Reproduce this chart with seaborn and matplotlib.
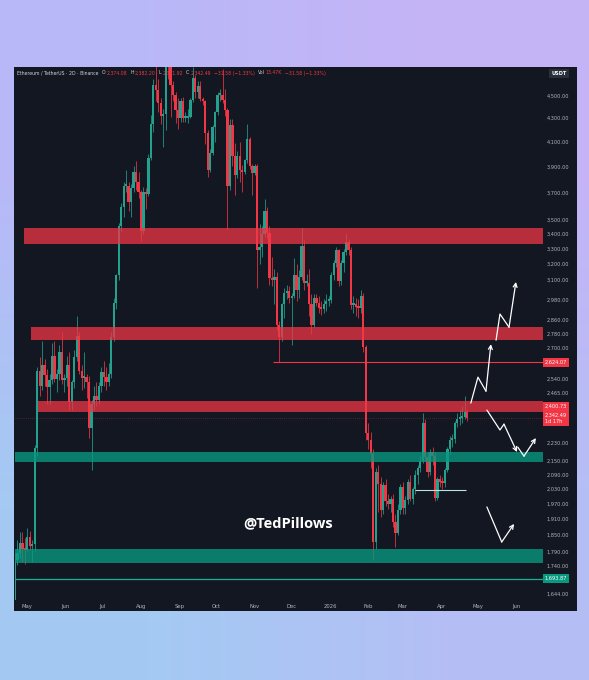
import numpy as np
import pandas as pd
import matplotlib
matplotlib.use("Agg")
import matplotlib.pyplot as plt
import matplotlib.dates as mdates
import matplotlib.transforms as mtrans
from matplotlib.ticker import NullLocator, NullFormatter
from matplotlib.patches import Rectangle
import seaborn as sns

sns.set_theme(style="dark")
plt.rcParams["font.family"] = ["DejaVu Sans"]

# ---------------- data (ETH/USDT, 2D candles) ----------------
first_candle = "2025-04-21"
opens = [1580,1757,1785,1820,1798,1795,1842,1808,1815,2206,
         2580,2500,2610,2555,2495,2530,2660,2535,2565,2680,
         2530,2540,2610,2420,2520,2650,2765,2580,2540,2545,
         2520,2297,2410,2450,2430,2500,2575,2545,2520,2560,
         2760,2960,3130,3460,3595,3745,3750,3630,3730,3860,
         3780,3700,3420,3700,3690,3970,4250,4600,4550,4430,
         4320,4340,4830,4780,4600,4510,4370,4300,4450,4300,
         4300,4310,4460,4660,4530,4590,4470,4450,4170,3870,
         4010,4220,4350,4510,4510,4460,4370,3750,4240,3980,
         3830,3980,3870,3860,3950,4120,3900,3850,3900,3290,
         3310,3400,3560,3410,3110,3100,3120,2830,2760,2950,
         3020,3030,2990,3000,3130,3040,3120,3320,3080,3080,
         2950,2830,2990,2960,2930,2920,2950,2970,2975,3130,
         3210,3290,3090,3210,3280,3350,3290,2945,2950,2935,
         2930,3000,2705,2275,2240,2180,1825,2100,2050,1945,
         2045,1980,1970,1990,1900,1858,1946,2040,1955,1985,
         2060,1990,2030,2090,2120,2150,2320,2165,2100,2190,
         2170,1995,2070,2060,2055,2110,2200,2240,2245,2320,
         2340,2345,2350,2374]
highs = [1785,1830,1860,1860,1840,1875,1865,1830,2220,2600,
         2650,2740,2640,2590,2560,2730,2740,2590,2720,2790,
         2560,2660,2680,2530,2690,2880,2790,2610,2680,2560,
         2550,2430,2500,2520,2520,2600,2630,2600,2620,2790,
         2990,3140,3480,3620,3780,3870,3780,3760,3900,3945,
         3860,3720,3740,3730,4000,4330,4650,4790,4650,4480,
         4380,4890,4956,4790,4640,4530,4480,4480,4490,4350,
         4380,4480,4770,4690,4640,4640,4490,4460,4200,4040,
         4240,4360,4530,4560,4750,4560,4390,4290,4290,4090,
         4020,4100,3910,3960,4250,4140,3920,3920,3920,3470,
         3460,3650,3590,3460,3250,3170,3150,2850,2960,3050,
         3070,3060,3020,3240,3200,3160,3440,3360,3140,3170,
         3010,3010,3010,3000,2970,2980,3010,3000,3150,3230,
         3310,3300,3230,3300,3400,3370,3310,3000,2990,2980,
         3040,3020,2720,2320,2280,2200,2120,2130,2080,2060,
         2070,2010,2000,2010,1930,1970,2050,2060,2000,2070,
         2090,2040,2110,2130,2170,2370,2340,2190,2200,2210,
         2190,2080,2090,2080,2120,2210,2260,2270,2330,2370,
         2380,2400,2450,2382]
lows = [1565,1740,1765,1750,1745,1790,1795,1750,1790,2170,
        2450,2480,2500,2410,2410,2510,2520,2470,2530,2510,
        2470,2500,2380,2380,2490,2630,2560,2480,2490,2440,
        2250,2110,2380,2400,2410,2470,2500,2480,2500,2540,
        2740,2920,3100,3420,3520,3700,3560,3520,3700,3720,
        3660,3355,3400,3580,3670,3950,4180,4450,4350,4250,
        4060,4200,4650,4310,4450,4260,4210,4270,4270,4270,
        4260,4300,4440,4480,4480,4450,4420,4080,3820,3860,
        3990,4100,4330,4450,4430,4320,3435,3720,3900,3680,
        3810,3780,3700,3840,3930,3880,3680,3830,3050,3200,
        3250,3380,3370,3070,3060,2950,2800,2624,2740,2870,
        2980,2960,2720,2990,2970,2990,3100,3040,3060,2880,
        2780,2820,2940,2900,2890,2900,2910,2940,2960,3100,
        3180,3060,3070,3150,3260,3260,2920,2900,2880,2870,
        2900,2680,2240,2200,2120,1760,1800,1940,1920,1930,
        1960,1950,1940,1880,1805,1850,1930,1930,1930,1970,
        1980,1970,2010,2050,2100,2140,2150,2080,2090,2130,
        1980,1985,2040,2030,2040,2100,2180,2210,2230,2300,
        2310,2320,2340,2332]
closes = [1757,1785,1820,1798,1795,1842,1808,1815,2206,2580,
          2500,2610,2555,2495,2530,2660,2535,2565,2680,2530,
          2540,2610,2420,2520,2650,2765,2580,2540,2545,2520,
          2297,2410,2450,2430,2500,2575,2545,2520,2560,2760,
          2960,3130,3460,3595,3745,3750,3630,3730,3860,3780,
          3700,3420,3700,3690,3970,4250,4600,4550,4430,4320,
          4340,4830,4780,4600,4510,4370,4300,4450,4300,4300,
          4310,4460,4660,4530,4590,4470,4450,4170,3870,4010,
          4220,4350,4510,4510,4460,4370,3750,4240,3980,3830,
          3980,3870,3860,3950,4120,3900,3850,3900,3290,3310,
          3400,3560,3410,3110,3100,3120,2830,2760,2950,3020,
          3030,2990,3000,3130,3040,3120,3320,3080,3080,2950,
          2830,2990,2960,2930,2920,2950,2970,2975,3130,3210,
          3290,3090,3210,3280,3350,3290,2945,2950,2935,2930,
          3000,2705,2275,2240,2180,1825,2100,2050,1945,2045,
          1980,1970,1990,1900,1858,1946,2040,1955,1985,2060,
          1990,2030,2090,2120,2150,2320,2165,2100,2190,2170,
          1995,2070,2060,2055,2110,2200,2240,2245,2320,2340,
          2345,2350,2374,2342]

# zones: (start date, low, high)
red_zones = [("2025-04-28", 3335, 3445), ("2025-05-04", 2745, 2820), ("2025-05-10", 2372, 2428)]
green_zones = [(2143, 2190), (1748, 1798)]
level_red = 2624.07
level_red_start = "2025-11-16"
level_green = 1693.87
level_zone = 2400.73
last_price = 2342.49
range_line = ("2026-03-11", "2026-04-21", 2028)

# y axis labels
ytick_vals = [4500, 4300, 4100, 3900, 3700, 3500, 3400, 3300, 3200, 3100, 2980, 2860,
              2780, 2700, 2540, 2465, 2230, 2150, 2090, 2030, 1970, 1910, 1850, 1790, 1740, 1644]
month_ticks = ["2025-05-01", "2025-06-01", "2025-07-01", "2025-08-01", "2025-09-01", "2025-10-01",
               "2025-11-01", "2025-12-01", "2026-01-01", "2026-02-01", "2026-03-01", "2026-04-01",
               "2026-05-01", "2026-06-01"]
month_labels = ["May", "Jun", "Jul", "Aug", "Sep", "Oct", "Nov", "Dec", "2026", "Feb", "Mar", "Apr", "May", "Jun"]

# header legend pieces
header_parts = [("Ethereum / TetherUS · 2D · Binance", "w"), ("O", "w"), ("2,374.08", "r"),
                ("H", "w"), ("2,382.20", "r"), ("L", "w"), ("2,331.92", "r"), ("C", "w"),
                ("2,342.49", "r"), ("−31.58 (−1.33%)", "r"), ("Vol", "w"), ("13.47K", "r"),
                ("−31.58 (−1.33%)", "r")]

# projected paths (date, price)
path_up1 = (["2026-04-25 00:00", "2026-04-30 18:00", "2026-05-07 06:00", "2026-05-11 06:00"], [2416, 2546, 2475, 2722])
path_up2 = (["2026-05-15 10:00", "2026-05-18 14:00", "2026-05-25 22:00", "2026-05-31 12:00"], [2744, 2893, 2817, 3087])
path_dn1 = (["2026-05-08 00:00", "2026-05-18 14:00", "2026-05-21 20:00", "2026-06-01 10:00"], [2382, 2288, 2315, 2188])
path_dn2 = (["2026-06-02 00:00", "2026-06-07 00:00", "2026-06-16 16:00"], [2210, 2170, 2251])
path_low = (["2026-05-08 00:00", "2026-05-20 00:00", "2026-05-30 00:00"], [1958, 1824, 1892])

# ---------------- layout ----------------
W, H = 589, 680
def fx(p): return p / W
def fy(p): return 1 - p / H

UP, DOWN = "#22a18f", "#f23645"
PANEL = "#131722"

fig = plt.figure(figsize=(W / 100, H / 100), dpi=100)

bg = fig.add_axes([0, 0, 1, 1], zorder=0)
grad = np.array([[[0.725, 0.722, 0.973], [0.772, 0.706, 0.965]],
                 [[0.643, 0.792, 0.953], [0.706, 0.749, 0.961]]])
bg.imshow(grad, extent=[0, 1, 0, 1], interpolation="bilinear", aspect="auto")
bg.add_patch(Rectangle((fx(14), fy(611)), fx(577) - fx(14), fy(67) - fy(611),
                       transform=bg.transAxes, color=PANEL, lw=0))
bg.set_xlim(0, 1); bg.set_ylim(0, 1)
bg.axis("off")

ax = fig.add_axes([fx(14.7), fy(600), fx(543) - fx(14.7), fy(67) - fy(600)], zorder=1)
ax.set_facecolor(PANEL)
for s in ax.spines.values():
    s.set_visible(False)
ax.grid(False)
ax.set_yscale("log")
ax.set_ylim(1622, 4769)
xl = mdates.date2num(pd.Timestamp("2025-04-20 19:00"))
xr = mdates.date2num(pd.Timestamp("2026-06-22 10:00"))
ax.set_xlim(xl, xr)

o = np.array(opens, float); h = np.array(highs, float)
l = np.array(lows, float); c = np.array(closes, float)
dates = pd.date_range(first_candle, periods=len(c), freq="2D")
xd = mdates.date2num(dates)
cols = np.where(c >= o, UP, DOWN)
ax.vlines(xd, l, h, colors=cols, linewidth=0.55, zorder=2)
body_lo = np.minimum(o, c)
body_h = np.maximum(np.abs(c - o), body_lo * 0.004)
ax.bar(xd, body_h, bottom=body_lo, width=1.85, color=cols, linewidth=0, zorder=3)

for start, lo, hi in red_zones:
    ax.fill_between([mdates.date2num(pd.Timestamp(start)), xr], lo, hi,
                    color="#f23645", alpha=0.74, linewidth=0, zorder=4)
for lo, hi in green_zones:
    ax.fill_between([xl, xr], lo, hi, color="#089981", alpha=0.78, linewidth=0, zorder=4)

ax.hlines(level_red, mdates.date2num(pd.Timestamp(level_red_start)), xr, color="#f23645", lw=0.8, zorder=5)
ax.hlines(level_green, xl, xr, color="#0fb396", lw=0.9, zorder=5)
ax.hlines(last_price, xl, xr, color="#f23645", lw=0.5, linestyles=(0, (1, 2)), alpha=0.6, zorder=5)
ax.hlines(range_line[2], mdates.date2num(pd.Timestamp(range_line[0])),
          mdates.date2num(pd.Timestamp(range_line[1])), color="#b9e6dc", lw=0.8, zorder=5)

def draw_path(path):
    d, p = path
    xs = mdates.date2num(pd.to_datetime(d, format="%Y-%m-%d %H:%M"))
    ax.plot(xs[:-1], p[:-1], color="white", lw=0.9, zorder=6, solid_capstyle="round")
    ax.annotate("", xy=(xs[-1], p[-1]), xytext=(xs[-2], p[-2]),
                arrowprops=dict(arrowstyle="->", color="white", lw=0.9,
                                shrinkA=0, shrinkB=0, mutation_scale=7), zorder=6)

for pth in (path_up1, path_up2, path_dn1, path_dn2, path_low):
    draw_path(pth)

# axes ticks
ax.yaxis.tick_right()
ax.yaxis.set_minor_locator(NullLocator())
ax.yaxis.set_minor_formatter(NullFormatter())
ax.set_yticks(ytick_vals)
ax.set_yticklabels([f"{v:,.2f}" for v in ytick_vals])
ax.tick_params(axis="y", length=0, pad=2.6, labelsize=3.6, labelcolor="#b2b5be")
ax.set_xticks(mdates.date2num(pd.to_datetime(month_ticks)))
ax.set_xticklabels(month_labels)
ax.tick_params(axis="x", length=0, pad=3.2, labelsize=3.8, labelcolor="#b2b5be")

# price tags on the axis
bt = mtrans.blended_transform_factory(ax.transAxes, ax.transData)
def tag(val, text, fc):
    ax.text(1.0035, val, text, transform=bt, ha="left", va="center", fontsize=3.6,
            color="white", clip_on=False, zorder=10,
            bbox=dict(boxstyle="square,pad=0.4", fc=fc, ec="none"))
tag(level_red, f"{level_red:,.2f}", "#f23645")
tag(level_zone, f"{level_zone:,.2f}", "#f23645")
tag(last_price, f"{last_price:,.2f}\n1d 17h", "#f23645")
tag(level_green, f"{level_green:,.2f}", "#089981")

fig.text(fx(559), fy(73.5), "USDT", ha="center", va="center", fontsize=3.6, color="white",
         fontweight="bold", zorder=10, bbox=dict(boxstyle="square,pad=0.45", fc="#2a2e39", ec="none"))

# header legend, laid out piece after piece
fig.canvas.draw()
renderer = fig.canvas.get_renderer()
xpos = 17.0
for i, (txt, kind) in enumerate(header_parts):
    t = fig.text(fx(xpos), fy(73), txt, ha="left", va="center", fontsize=3.3,
                 color="#d1d4dc" if kind == "w" else "#f23645", zorder=10)
    wpx = t.get_window_extent(renderer).width
    nxt = header_parts[i + 1][1] if i + 1 < len(header_parts) else "w"
    gap = 1.0 if (kind == "w" and nxt == "r" and len(txt) <= 3 and i > 0) else 3.2
    xpos += wpx + gap

fig.text(fx(288), fy(523), "@TedPillows", ha="center", va="center", fontsize=10.5,
         fontweight="bold", family=["Open Sans", "DejaVu Sans"], color="white", zorder=10)

fig.savefig("out.png", dpi=100)
